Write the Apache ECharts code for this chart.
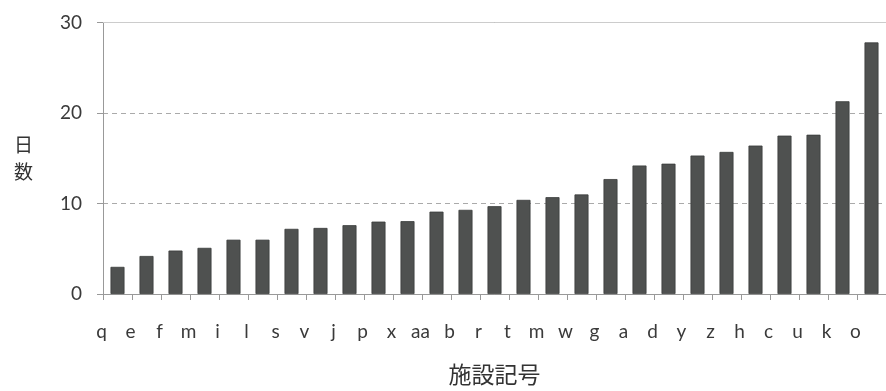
<!DOCTYPE html>
<html>
<head>
<meta charset="utf-8">
<script src="https://cdn.jsdelivr.net/npm/echarts@6/dist/echarts.min.js"></script>
<style>html,body{margin:0;padding:0;background:#fff;}#c{width:886px;height:391px;}</style>
</head>
<body>
<div id="c"></div>
<script>
var categories = ['q','e','f','m','i','l','s','v','j','p','x','aa','b','r','t','m','w','g','a','d','y','z','h','c','u','k','o'];
var days = [3.0,4.2,4.8,5.1,6.0,6.0,7.2,7.3,7.6,8.0,8.05,9.1,9.3,9.7,10.4,10.7,11.0,12.7,14.2,14.4,15.3,15.7,16.4,17.5,17.6,21.3,27.8];
var yTicks = {min:0, max:30, interval:10};
var yName = '日\n数';
var xName = '施設記号';

var chart = echarts.init(document.getElementById('c'));
var fontFam = 'Lato, "Noto Sans CJK JP", sans-serif';
chart.setOption({
  animation:false,
  backgroundColor:'#fff',
  grid:{left:103, right:-4, top:22.5, bottom:95.5, containLabel:false},
  xAxis:[{
    type:'category',
    data:categories,
    name:xName,
    nameLocation:'middle',
    nameGap:69,
    nameTextStyle:{fontSize:23, color:'#333', fontFamily:'"Noto Sans CJK JP", sans-serif'},
    axisLine:{lineStyle:{color:'#999', width:1}},
    axisTick:{show:true, length:6, lineStyle:{color:'#999'}},
    axisLabel:{fontSize:19, color:'#3a3a3a', fontFamily:fontFam, margin:28, interval:0, padding:[0,32,0,0]}
  },{
    type:'category',
    position:'top',
    data:categories,
    axisLine:{show:true, lineStyle:{color:'#ccc', width:1}},
    axisTick:{show:false},
    axisLabel:{show:false}
  }],
  yAxis:{
    type:'value',
    min:yTicks.min, max:yTicks.max, interval:yTicks.interval,
    name:yName,
    nameLocation:'middle',
    nameRotate:0,
    nameGap:70,
    nameTextStyle:{fontSize:19, color:'#333', lineHeight:27, fontFamily:'"Noto Sans CJK JP", sans-serif'},
    axisLine:{show:true, lineStyle:{color:'#999'}},
    axisTick:{show:true, length:6, lineStyle:{color:'#999'}},
    axisLabel:{fontSize:19, color:'#3a3a3a', fontFamily:fontFam, margin:21},
    splitLine:{show:true, lineStyle:{color:'#aaa', type:[5,4], width:1}}
  },
  series:[{
    type:'bar',
    data:days,
    barWidth:14,
    itemStyle:{color:'#4f5150', borderColor:'#3a3c3b', borderWidth:0.8}
  }]
});
</script>
</body>
</html>
